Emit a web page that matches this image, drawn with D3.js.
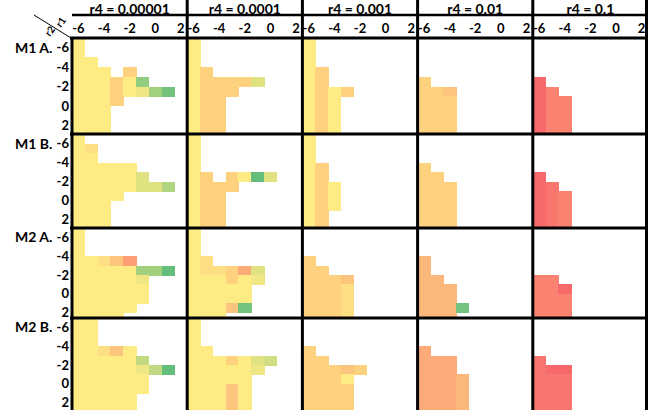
<!DOCTYPE html>
<html lang="en">
<head>
    <meta charset="UTF-8">
    <title>r4 grid</title>
    <script src="https://d3js.org/d3.v7.min.js"></script>
    <style>
        body {
            margin: 0;
            background: white;
        }
        svg {
            display: block;
            font-family: Lato, "Open Sans", sans-serif;
            font-weight: bold;
        }
    </style>
</head>
<body>
    <svg></svg>
    <script>
        // Axis values
        var r1Values = [-6, -5, -4, -3, -2, -1, 0, 1, 2];
        var r2Rows = [-7, -6, -5, -4, -3, -2, -1, 0, 1, 2];
        var r1Ticks = [-6, -4, -2, 0, 2];
        var r2Ticks = [-6, -4, -2, 0, 2];
        var r4Labels = ["r4 = 0.00001", "r4 = 0.0001", "r4 = 0.001", "r4 = 0.01", "r4 = 0.1"];
        var modelLabels = ["M1 A.", "M1 B.", "M2 A.", "M2 B."];

        // Cell levels: "." empty, 0..9 then A..K -> 0..100 in steps of 5
        // (0 red, A = 50 yellow, K = 100 green). One string per r2 row, one char per r1.
        var m1a = [
            ["A........", "A........", "AA.......", "AAA.8....", "AAA8AH...", "AAA8ABGJ.", "AAA8.....", "AAA......", "AAA......", "AAA......"],
            ["A........", "A........", "A........", "A8.......", "A8888C...", "A888.....", "A88......", "A88......", "A88......", "A88......"],
            ["A........", "A........", "A........", "A8.......", "A8.......", "A8A8.....", "A8A......", "A8A......", "A8A......", "A8A......"],
            [".........", ".........", ".........", ".........", "8........", "887......", "888......", "888......", "888......", "888......"],
            [".........", ".........", ".........", ".........", "0........", "02.......", "022......", "022......", "022......", "022......"]
        ];
        var m1b = [
            ["A........", "A9.......", "AA.......", "AAAAA....", "AAAAAC...", "AAAAACCF.", "AAAA.....", "AAA......", "AAA......", "AAA......"],
            ["A........", "A........", "A........", "A........", "A8.8AKC..", "A888.....", "A88......", "A88......", "A88......", "A88......"],
            ["A........", "A........", "A........", "A8.......", "A8.......", "A8A......", "A8A......", "A8A......", "A8.......", "A8......."],
            [".........", ".........", ".........", "8........", "88.......", "888......", "888......", "888......", "888......", "888......"],
            [".........", ".........", ".........", ".........", "0........", "01.......", "012......", "012......", "012......", "012......"]
        ];
        var m2a = [
            ["A........", "A........", "A........", "AA974....", "AAAAAGGK.", "AAAAAB...", "AAAAAA...", "AAAAAA...", "AAAAA....", "AAAA....."],
            ["A........", "A........", "A........", "A9.......", "A9985C...", "AAA8AB...", "AAAAA....", "AAAAA....", "AAA7J....", "AAA......"],
            [".........", ".........", ".........", "8........", "88.......", "8887.....", "8889.....", "8889.....", "8889.....", "8889....."],
            [".........", ".........", ".........", "6........", "6........", "66.......", "666......", "666......", "666J.....", "666......"],
            [".........", ".........", ".........", ".........", ".........", "22.......", "220......", "222......", "222......", "222......"]
        ];
        var m2b = [
            ["AA.......", "AA.......", "AA.......", "AA97A....", "AAAAAE...", "AAAAABEK.", "AAAAAA...", "AAAAAA...", "AAAAA....", "AAAAA...."],
            ["A........", "A........", "A........", "AA.......", "AAA8ACD..", "AAAAAB...", "AAAAA....", "AAA7A....", "AAA7A....", "AAA7A...."],
            [".........", ".........", ".........", "8........", "88.......", "88878....", "888A.....", "8888.....", "8888.....", "8888....."],
            [".........", ".........", ".........", "5........", "555......", "555......", "5556.....", "5556.....", "5556.....", "5556....."],
            [".........", ".........", ".........", ".........", "1........", "100......", "111......", "111......", "111......", "111......"]
        ];
        var models = [m1a, m1b, m2a, m2b];
        var levelCodes = "0123456789ABCDEFGHIJK";

        // Layout
        var width = 648, height = 410;
        var svg = d3.select("svg").attr("width", width).attr("height", height);
        var rowTops = [38, 134, 228, 318];
        var rowBottoms = [134, 228, 318, 410];
        var rowSteps = [9.7, 9.5, 9.4, 9.4];

        var color = d3.scaleLinear()
            .domain([0, 50, 100])
            .range(["#f8696b", "#ffeb84", "#63be7b"]);

        var colX = d3.scaleBand().domain(d3.range(r4Labels.length)).range([72, 648]);
        var panelW = colX.bandwidth();

        var defs = svg.append("defs");
        var cells = svg.append("g").attr("shape-rendering", "crispEdges");

        models.forEach(function(model, mi) {
            var top = rowTops[mi], bottom = rowBottoms[mi];
            var y = d3.scaleLinear().domain([-7, -6]).range([top, top + rowSteps[mi]]);
            var cellH = y(-6) - y(-7);

            model.forEach(function(panel, pi) {
                var x = d3.scaleBand().domain(r1Values).range([colX(pi), colX(pi) + panelW]);
                var clipId = "clip" + mi + "_" + pi;
                defs.append("clipPath").attr("id", clipId)
                    .append("rect")
                    .attr("x", colX(pi)).attr("y", top)
                    .attr("width", panelW).attr("height", bottom - top);

                var data = [];
                panel.forEach(function(row, ri) {
                    row.split("").forEach(function(ch, ci) {
                        if (ch === ".") return;
                        data.push({r1: r1Values[ci], r2: r2Rows[ri], v: levelCodes.indexOf(ch) * 5});
                    });
                });

                // slight overlap so neighbouring cells join without seams
                cells.append("g").attr("clip-path", "url(#" + clipId + ")")
                    .selectAll("rect").data(data).enter().append("rect")
                    .attr("x", d => x(d.r1))
                    .attr("y", d => y(d.r2))
                    .attr("width", x.bandwidth() + 0.5)
                    .attr("height", cellH + 0.5)
                    .attr("fill", d => color(d.v));

                // top tick labels (only first model row)
                if (mi === 0) {
                    svg.append("g").selectAll("text").data(r1Ticks).enter().append("text")
                        .attr("x", d => x(d) + x.bandwidth() / 2)
                        .attr("y", 32.5)
                        .attr("text-anchor", "middle")
                        .attr("font-size", 13)
                        .text(d => d);
                    svg.append("text")
                        .attr("x", colX(pi) + panelW / 2)
                        .attr("y", 13.5)
                        .attr("text-anchor", "middle")
                        .attr("font-size", 14)
                        .text(r4Labels[pi]);
                }
            });

            // left r2 tick labels
            svg.append("g").selectAll("text").data(r2Ticks).enter().append("text")
                .attr("x", 69)
                .attr("y", d => y(d))
                .attr("dy", "0.36em")
                .attr("text-anchor", "end")
                .attr("font-size", 13)
                .text(d => d);

            svg.append("text")
                .attr("x", 15)
                .attr("y", y(-6))
                .attr("dy", "0.36em")
                .attr("font-size", 14)
                .text(modelLabels[mi]);
        });

        // grid lines
        var lines = svg.append("g").attr("stroke", "black");
        lines.append("line").attr("x1", 72).attr("x2", 648).attr("y1", 15).attr("y2", 15).attr("stroke-width", 2.5);
        [38].concat(rowTops.slice(1)).forEach(function(yy) {
            lines.append("line").attr("x1", 70).attr("x2", 648).attr("y1", yy).attr("y2", yy).attr("stroke-width", 3);
        });
        lines.append("line").attr("x1", 72).attr("x2", 72).attr("y1", 37).attr("y2", 410).attr("stroke-width", 3);
        d3.range(1, r4Labels.length).forEach(function(i) {
            lines.append("line").attr("x1", colX(i)).attr("x2", colX(i)).attr("y1", 0).attr("y2", 410).attr("stroke-width", 3);
        });
        lines.append("line").attr("x1", 646.5).attr("x2", 646.5).attr("y1", 0).attr("y2", 410).attr("stroke-width", 3);

        // corner diagonal with axis names
        lines.append("line").attr("x1", 34).attr("y1", 15).attr("x2", 71).attr("y2", 38).attr("stroke-width", 1);
        svg.append("text").attr("transform", "translate(61,28) rotate(-55)").attr("font-size", 10).text("r1");
        svg.append("text").attr("transform", "translate(50,37) rotate(-55)").attr("font-size", 10).text("r2");
    </script>
</body>
</html>
